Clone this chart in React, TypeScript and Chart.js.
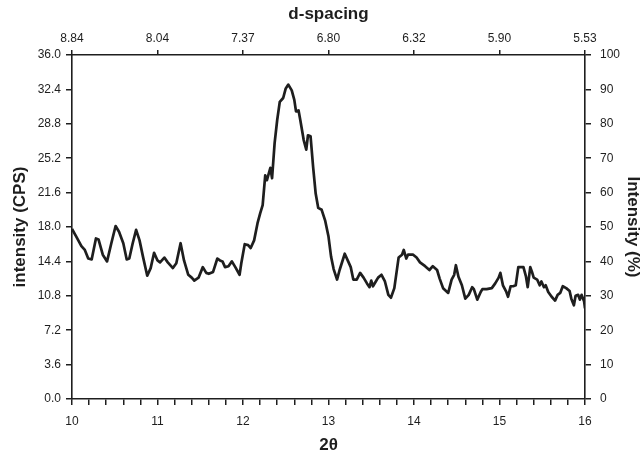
import React, { useEffect, useRef } from "react";
import { Chart, registerables } from "chart.js";

Chart.register(...registerables);

// 2θ positions (degrees) and measured intensity (CPS)
const twoTheta = [
  10.0, 10.05, 10.11, 10.15, 10.19, 10.23, 10.28, 10.31, 10.36, 10.41, 10.46, 10.51, 10.55, 10.6, 10.64, 10.67,
  10.71, 10.75, 10.79, 10.83, 10.88, 10.92, 10.96, 11.0, 11.03, 11.08, 11.12, 11.18, 11.22, 11.27, 11.31, 11.36,
  11.4, 11.43, 11.48, 11.53, 11.57, 11.6, 11.65, 11.7, 11.73, 11.76, 11.79, 11.83, 11.87, 11.91, 11.96, 11.98,
  12.02, 12.06, 12.09, 12.13, 12.17, 12.2, 12.23, 12.26, 12.28, 12.32, 12.34, 12.37, 12.4, 12.43, 12.47, 12.5,
  12.53, 12.57, 12.6, 12.62, 12.65, 12.67, 12.71, 12.74, 12.76, 12.79, 12.82, 12.85, 12.88, 12.92, 12.96, 13.0,
  13.03, 13.06, 13.1, 13.13, 13.19, 13.23, 13.26, 13.29, 13.33, 13.37, 13.41, 13.45, 13.48, 13.5, 13.52, 13.56,
  13.58, 13.62, 13.66, 13.7, 13.73, 13.77, 13.82, 13.86, 13.88, 13.91, 13.93, 13.99, 14.03, 14.07, 14.13, 14.18,
  14.22, 14.27, 14.3, 14.34, 14.4, 14.44, 14.47, 14.49, 14.52, 14.56, 14.6, 14.64, 14.68, 14.7, 14.74, 14.78,
  14.8, 14.85, 14.91, 14.95, 14.99, 15.01, 15.04, 15.08, 15.1, 15.13, 15.16, 15.19, 15.22, 15.28, 15.31, 15.33,
  15.36, 15.38, 15.4, 15.44, 15.47, 15.49, 15.52, 15.54, 15.57, 15.61, 15.65, 15.68, 15.71, 15.74, 15.78, 15.82,
  15.84, 15.87, 15.89, 15.92, 15.94, 15.96, 15.99, 16.0,
];

const cps = [
  17.8, 17.0, 16.0, 15.6, 14.7, 14.6, 16.8, 16.7, 15.1, 14.4, 16.3, 18.1, 17.5, 16.3, 14.6, 14.7,
  16.3, 17.7, 16.6, 14.9, 12.9, 13.7, 15.3, 14.5, 14.3, 14.8, 14.3, 13.7, 14.2, 16.3, 14.5, 13.0,
  12.7, 12.4, 12.7, 13.8, 13.2, 13.1, 13.3, 14.7, 14.5, 14.4, 13.8, 13.9, 14.4, 13.8, 13.0, 14.2,
  16.2, 16.1, 15.8, 16.6, 18.4, 19.4, 20.3, 23.4, 22.9, 24.2, 23.1, 26.8, 29.2, 31.1, 31.5, 32.5,
  32.9, 32.3, 31.3, 30.1, 30.2, 29.2, 27.1, 26.1, 27.6, 27.5, 24.3, 21.5, 20.0, 19.8, 18.7, 17.0,
  14.9, 13.6, 12.5, 13.5, 15.2, 14.4, 13.8, 12.5, 12.5, 13.2, 12.7, 12.1, 11.7, 12.4, 11.8, 12.4,
  12.7, 13.0, 12.3, 10.9, 10.6, 11.6, 14.8, 15.1, 15.6, 14.7, 15.1, 15.1, 14.8, 14.3, 13.9, 13.5,
  13.9, 13.5, 12.6, 11.6, 11.1, 12.5, 13.0, 14.0, 12.8, 11.9, 10.5, 10.9, 11.7, 11.5, 10.4, 11.2,
  11.5, 11.5, 11.6, 12.1, 12.7, 13.2, 11.9, 11.2, 10.7, 11.8, 11.8, 11.9, 13.8, 13.8, 12.8, 11.7,
  13.8, 13.3, 12.7, 12.5, 11.9, 12.3, 11.7, 11.9, 11.2, 10.7, 10.3, 10.9, 11.1, 11.8, 11.6, 11.3,
  10.5, 9.8, 10.8, 10.9, 10.4, 10.9, 10.2, 9.5,
];

// Axis tick values / labels
const twoThetaMajor = [10, 11, 12, 13, 14, 15, 16];
const dSpacingLabels = ["8.84", "8.04", "7.37", "6.80", "6.32", "5.90", "5.53"];
const cpsTicks = [0, 3.6, 7.2, 10.8, 14.4, 18.0, 21.6, 25.2, 28.8, 32.4, 36.0];
const percentTicks = [0, 10, 20, 30, 40, 50, 60, 70, 80, 90, 100];

const FONT = "'Liberation Sans', Arial, Helvetica, sans-serif";
const INK = "#1e1e1e";

export default function App() {
  const ref = useRef<HTMLCanvasElement | null>(null);

  useEffect(() => {
    if (!ref.current) return;
    const minorTicks: number[] = [];
    for (let i = 0; i < twoThetaMajor.length - 1; i++) {
      for (let k = 0; k < 5; k++) {
        minorTicks.push(twoThetaMajor[i] + (k * (twoThetaMajor[i + 1] - twoThetaMajor[i])) / 5);
      }
    }
    minorTicks.push(twoThetaMajor[twoThetaMajor.length - 1]);

    const isMajor = (v: number) => twoThetaMajor.some((m) => Math.abs(m - v) < 1e-6);
    const tickFont = { family: FONT, size: 12 };
    const titleFont = { family: FONT, size: 17, weight: "bold" as const };
    const grid = {
      display: true,
      drawOnChartArea: false,
      drawTicks: true,
      tickLength: 6,
      color: INK,
      tickColor: INK,
      lineWidth: 1.5,
    };
    const border = { display: true, color: INK, width: 1.6 };

    const chart = new Chart(ref.current, {
      type: "line",
      data: {
        datasets: [
          {
            data: twoTheta.map((x, i) => ({ x, y: cps[i] })),
            borderColor: INK,
            borderWidth: 2.7,
            pointRadius: 0,
            tension: 0,
            fill: false,
            borderJoinStyle: "round",
            xAxisID: "x",
            yAxisID: "y",
          },
        ],
      },
      options: {
        responsive: false,
        animation: false,
        devicePixelRatio: 1,
        layout: { padding: 0 },
        plugins: { legend: { display: false }, tooltip: { enabled: false } },
        scales: {
          x: {
            type: "linear",
            position: "bottom",
            min: 10,
            max: 16,
            afterBuildTicks: (s: any) => {
              s.ticks = minorTicks.map((v) => ({ value: v }));
            },
            afterFit: (s: any) => {
              s.height = 67;
            },
            ticks: {
              autoSkip: false,
              maxRotation: 0,
              padding: 9,
              color: INK,
              font: tickFont,
              callback: (v: any) => (isMajor(Number(v)) ? String(Math.round(Number(v))) : ""),
            },
            grid,
            border,
            title: {
              display: true,
              text: "2θ",
              color: INK,
              font: titleFont,
              padding: { top: 0, bottom: 10 },
            },
          },
          x2: {
            type: "linear",
            position: "top",
            min: 10,
            max: 16,
            afterBuildTicks: (s: any) => {
              s.ticks = twoThetaMajor.map((v) => ({ value: v }));
            },
            afterFit: (s: any) => {
              s.height = 55;
            },
            ticks: {
              autoSkip: false,
              maxRotation: 0,
              padding: 4,
              color: INK,
              font: tickFont,
              callback: (v: any) => {
                const i = twoThetaMajor.findIndex((m) => Math.abs(m - Number(v)) < 1e-6);
                return i >= 0 ? dSpacingLabels[i] : "";
              },
            },
            grid: { ...grid, tickLength: 5 },
            border,
            title: {
              display: true,
              text: "d-spacing",
              color: INK,
              font: titleFont,
              padding: { top: 4, bottom: 0 },
            },
          },
          y: {
            type: "linear",
            position: "left",
            min: 0,
            max: 36,
            afterBuildTicks: (s: any) => {
              s.ticks = cpsTicks.map((v) => ({ value: v }));
            },
            afterFit: (s: any) => {
              s.width = 72;
            },
            ticks: {
              autoSkip: false,
              padding: 5,
              color: INK,
              font: tickFont,
              callback: (v: any) => Number(v).toFixed(1),
            },
            grid,
            border,
            title: {
              display: true,
              text: "intensity (CPS)",
              color: INK,
              font: titleFont,
              padding: { top: 10, bottom: 0 },
            },
          },
          y2: {
            type: "linear",
            position: "right",
            min: 0,
            max: 100,
            afterBuildTicks: (s: any) => {
              s.ticks = percentTicks.map((v) => ({ value: v }));
            },
            afterFit: (s: any) => {
              s.width = 58;
            },
            ticks: {
              autoSkip: false,
              padding: 9,
              color: INK,
              font: tickFont,
              callback: (v: any) => String(Math.round(Number(v))),
            },
            grid,
            border,
            title: {
              display: true,
              text: "Intensity (%)",
              color: INK,
              font: titleFont,
              padding: { top: 0, bottom: 0 },
            },
          },
        },
      },
    } as any);

    return () => chart.destroy();
  }, []);

  return (
    <div
      style={{
        position: "fixed",
        left: 0,
        top: 0,
        width: 643,
        height: 466,
        background: "#fff",
      }}
    >
      <canvas ref={ref} width={643} height={466} style={{ display: "block" }} />
    </div>
  );
}
